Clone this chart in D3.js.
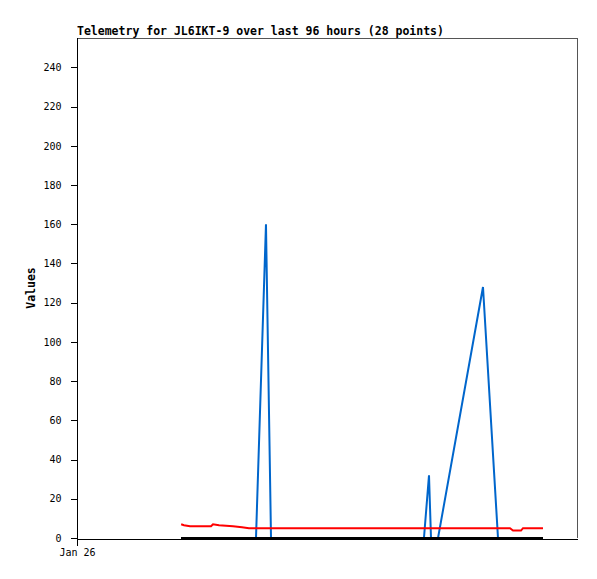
<!DOCTYPE html>
<html>
<head>
<meta charset="utf-8">
<script src="https://cdn.jsdelivr.net/npm/d3@7"></script>
<style>
  body { margin: 0; background: #fff; }
  svg { display: block; }
  text { font-family: "DejaVu Sans Mono", "Liberation Mono", monospace; }
</style>
</head>
<body>
<svg id="chart"></svg>
<script>
// telemetry samples (28 points)
var times = [
    "2023-01-26 20:00", "2023-01-26 20:32", "2023-01-26 21:42", "2023-01-27 01:44",
    "2023-01-27 02:07", "2023-01-27 03:16", "2023-01-27 05:57", "2023-01-27 07:41",
    "2023-01-27 09:01", "2023-01-27 10:22", "2023-01-27 12:17", "2023-01-27 13:15",
    "2023-01-27 18:49", "2023-01-28 02:30", "2023-01-28 10:11", "2023-01-28 15:56",
    "2023-01-28 18:37", "2023-01-28 19:35", "2023-01-28 19:58", "2023-01-28 21:19",
    "2023-01-29 05:57", "2023-01-29 08:50", "2023-01-29 11:08", "2023-01-29 11:43",
    "2023-01-29 13:15", "2023-01-29 13:38", "2023-01-29 15:33", "2023-01-29 17:28"
];
var blueValues = [0, 0, 0, 0, 0, 0, 0, 0, 0, 0, 160, 0, 0, 0, 0, 0,
                  0, 32, 0, 0, 128, 0, 0, 0, 0, 0, 0, 0];
var redValues = [7, 6.5, 6, 6, 7, 6.5, 6, 5.5, 5, 5, 5, 5, 5, 5, 5, 5,
                 5, 5, 5, 5, 5, 5, 5, 3.8, 3.8, 5, 5, 5];
var blackValues = [0, 0, 0, 0, 0, 0, 0, 0, 0, 0, 0, 0, 0, 0, 0, 0,
                   0, 0, 0, 0, 0, 0, 0, 0, 0, 0, 0, 0];
var xStart = "2023-01-26 00:00";
var xEnd = "2023-01-30 00:00";
var xTicks = ["2023-01-26 00:00"];
var yTicks = [0, 20, 40, 60, 80, 100, 120, 140, 160, 180, 200, 220, 240];

var parse = d3.timeParse("%Y-%m-%d %H:%M");

width = 597;
height = 579;
margin = {left: 77, right: 20, top: 38, bottom: 41};
var w = width - margin.left - margin.right;
var h = height - margin.top - margin.bottom;

var svg = d3.select("#chart")
    .attr("width", width)
    .attr("height", height);

var chart = svg.append("g")
    .attr("transform", "translate(" + margin.left + "," + margin.top + ")");

var x = d3.scaleTime()
    .domain([parse(xStart), parse(xEnd)])
    .range([0, w]);

var y = d3.scaleLinear()
    .domain([0, 255])
    .range([h, 0]);

// frame: top and right in grey
chart.append("path")
    .attr("d", "M0.5,0.5H" + (w + 0.5) + "V" + h)
    .attr("fill", "none")
    .attr("stroke", "#555")
    .attr("shape-rendering", "crispEdges");

var yAxis = chart.append("g")
    .attr("transform", "translate(0.5,0)")
    .call(d3.axisLeft(y).tickValues(yTicks).tickSize(7).tickPadding(9).tickSizeOuter(0));

var xAxis = chart.append("g")
    .attr("transform", "translate(0," + (h + 0.5) + ")")
    .call(
        d3.axisBottom(x)
            .tickValues(xTicks.map(parse))
            .tickFormat(d3.timeFormat("%b %d"))
            .tickSize(7)
            .tickPadding(3)
            .tickSizeOuter(0)
    );

[yAxis, xAxis].forEach(function(a) {
    a.selectAll("path, line")
        .attr("stroke", "#000")
        .attr("shape-rendering", "crispEdges");
    a.selectAll("text")
        .attr("fill", "#000")
        .attr("font-size", "10px")
        .attr("font-family", "'DejaVu Sans Mono', monospace");
});
yAxis.select(".domain").attr("d", "M0,0V" + h);

var line = function(values) {
    return d3.line()
        .x((d, i) => x(parse(times[i])))
        .y((d) => y(d))(values);
};

var series = [
    {values: blueValues, color: "#0066cc", crisp: false},
    {values: redValues, color: "#ff0000", crisp: false},
    {values: blackValues, color: "#000000", crisp: true}
];

series.forEach(function(s) {
    chart.append("path")
        .attr("d", line(s.values))
        .attr("fill", "none")
        .attr("stroke", s.color)
        .attr("stroke-width", 2)
        .attr("stroke-linejoin", "miter")
        .attr("shape-rendering", s.crisp ? "crispEdges" : null);
});

svg.append("text")
    .attr("x", margin.left)
    .attr("y", 35)
    .attr("font-size", "11.5px")
    .attr("font-weight", "bold")
    .text("Telemetry for JL6IKT-9 over last 96 hours (28 points)");

svg.append("text")
    .attr("transform", "translate(35," + (margin.top + h / 2) + ") rotate(-90)")
    .attr("text-anchor", "middle")
    .attr("font-size", "11.5px")
    .attr("font-weight", "bold")
    .text("Values");
</script>
</body>
</html>
